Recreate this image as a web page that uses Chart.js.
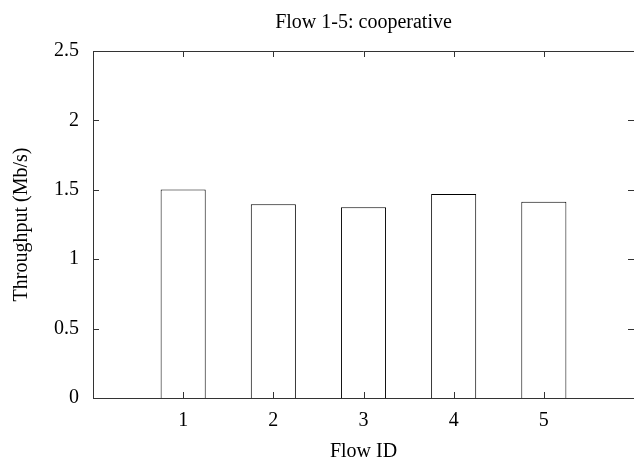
<!DOCTYPE html>
<html>
<head>
<meta charset="utf-8">
<script src="https://cdn.jsdelivr.net/npm/chart.js@4/dist/chart.umd.min.js"></script>
<style>
  html, body { margin: 0; padding: 0; background: #fff; }
  canvas { display: block; }
</style>
</head>
<body>
<canvas id="c" width="634" height="461"></canvas>
<script>
// ---- data ----
const categories = [1, 2, 3, 4, 5];                 // Flow IDs
const throughput = [1.503, 1.395, 1.374, 1.47, 1.414]; // Mb/s
const xTicks = [1, 2, 3, 4, 5];
const yTicks = [0, 0.5, 1, 1.5, 2, 2.5];
const titleText = 'Flow 1-5: cooperative';
const xTitle = 'Flow ID';
const yTitle = 'Throughput (Mb/s)';

const FONT = 'Liberation Serif, Times New Roman, serif';

const innerTicks = {
  id: 'innerTicks',
  afterDatasetsDraw(chart) {
    const { ctx, chartArea: a, scales: { x, y } } = chart;
    const L = 6;
    ctx.save();
    ctx.strokeStyle = '#333';
    ctx.lineWidth = 1;
    ctx.beginPath();
    // top border
    ctx.moveTo(a.left, Math.round(a.top) + 0.5);
    ctx.lineTo(a.right, Math.round(a.top) + 0.5);
    xTicks.forEach(v => {
      const px = Math.round(x.getPixelForValue(v)) + 0.5;
      ctx.moveTo(px, a.bottom); ctx.lineTo(px, a.bottom - L);
      ctx.moveTo(px, a.top); ctx.lineTo(px, a.top + L);
    });
    yTicks.forEach(v => {
      const py = Math.round(y.getPixelForValue(v)) + 0.5;
      ctx.moveTo(a.left, py); ctx.lineTo(a.left + L, py);
      ctx.moveTo(a.right, py); ctx.lineTo(a.right - L, py);
    });
    ctx.stroke();
    ctx.restore();
  }
};

new Chart(document.getElementById('c'), {
  type: 'bar',
  data: {
    datasets: [{
      data: categories.map((c, i) => ({ x: c, y: throughput[i] })),
      backgroundColor: '#ffffff',
      borderColor: '#000000',
      borderWidth: 1,
      barPercentage: 0.5,
      categoryPercentage: 1.0
    }]
  },
  options: {
    responsive: false,
    animation: false,
    devicePixelRatio: 1,
    layout: { padding: 0 },
    plugins: {
      legend: { display: false },
      tooltip: { enabled: false },
      title: {
        display: true,
        fullSize: false,
        text: titleText,
        color: '#000',
        font: { family: FONT, size: 20, weight: 'normal', lineHeight: 1.2 },
        padding: { top: 11, bottom: 16 }
      }
    },
    scales: {
      x: {
        type: 'linear',
        min: 0, max: 6,
        offset: false,
        grid: { display: false, drawTicks: false },
        border: { display: true, color: '#333', width: 1 },
        afterBuildTicks(s) { s.ticks = xTicks.map(v => ({ value: v })); },
        afterFit(s) { s.height = 63; },
        ticks: {
          color: '#000',
          padding: 11,
          maxRotation: 0,
          autoSkip: false,
          font: { family: FONT, size: 20, lineHeight: 1.2 },
          callback: v => String(v)
        },
        title: {
          display: true, text: xTitle, color: '#000',
          font: { family: FONT, size: 20, lineHeight: 0.9 },
          padding: { top: 0, bottom: 0 }
        }
      },
      y: {
        min: 0, max: 2.5,
        grid: { display: false, drawTicks: false },
        border: { display: true, color: '#333', width: 1 },
        afterBuildTicks(s) { s.ticks = yTicks.map(v => ({ value: v })); },
        afterFit(s) { s.width = 93; },
        ticks: {
          color: '#000',
          padding: 14,
          font: { family: FONT, size: 20, lineHeight: 1.2 },
          callback: v => String(v)
        },
        title: {
          display: true, text: yTitle, color: '#000',
          font: { family: FONT, size: 20, lineHeight: 1.2 },
          padding: { top: 10, bottom: 0 }
        }
      }
    }
  },
  plugins: [innerTicks]
});
</script>
</body>
</html>
